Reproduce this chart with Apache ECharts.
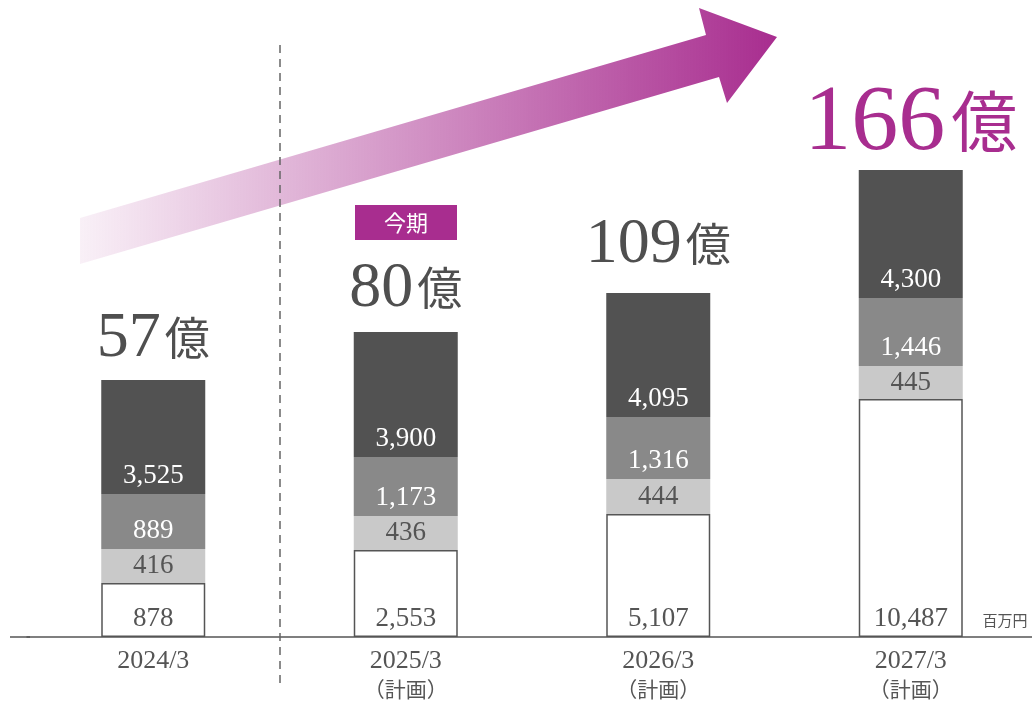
<!DOCTYPE html>
<html>
<head>
<meta charset="utf-8">
<script src="https://cdn.jsdelivr.net/npm/echarts@6/dist/echarts.min.js"></script>
<style>
html, body { margin: 0; padding: 0; background: #fff; }
#main { width: 1032px; height: 703px; }
</style>
</head>
<body>
<div id="main"></div>
<script>
// 売上構成の推移（百万円）
var categories = ['2024/3', '2025/3', '2026/3', '2027/3'];
var planNote = ['', '（計画）', '（計画）', '（計画）'];
var totals = [57, 80, 109, 166];           // 億
var valWhite = [878, 2553, 5107, 10487];
var valLight = [416, 436, 444, 445];
var valMid = [889, 1173, 1316, 1446];
var valDark = [3525, 3900, 4095, 4300];
// 図は実寸比ではないので、見た目の高さを別に持つ
var hWhite = [54, 87, 123, 238];
var hLight = [34, 34, 35, 33];
var hMid = [55, 59, 62, 68];
var hDark = [114, 125, 124, 128];

var SERIF = '"Liberation Serif", "Noto Sans CJK JP", serif';
var MAGENTA = '#a82d8f';

function fmt(v) { return v.toLocaleString('en-US'); }

function segLabel(vals, color, pos, dist) {
	return {
		show: true, position: pos, distance: dist,
		color: color, fontSize: 27, fontFamily: SERIF,
		formatter: function(p) { return fmt(vals[p.dataIndex]); }
	};
}

// 合計ラベルの棒からの距離
var totalGap = [9, 11, 16, 0];
var totalData = totals.map(function(t, i) {
	return { value: 0, label: { distance: totalGap[i] } };
});

var myChart = echarts.init(document.getElementById('main'));
myChart.setOption({
	animation: false,
	grid: { left: 27, top: 37, width: 1010, height: 600, outerBoundsMode: 'none', containLabel: false },
	xAxis: {
		type: 'category',
		data: categories,
		axisLine: { lineStyle: { color: '#555', width: 1.5 } },
		axisTick: { show: false },
		axisLabel: {
			margin: 10,
			formatter: function(v, i) {
				return '{a|' + v + '}' + (planNote[i] ? '\n{b|' + planNote[i] + '}' : '');
			},
			rich: {
				a: { fontSize: 26, fontFamily: SERIF, color: '#555', lineHeight: 29 },
				b: { fontSize: 21, fontFamily: SERIF, color: '#555', lineHeight: 31 }
			}
		}
	},
	yAxis: { type: 'value', min: 0, max: 600, show: false },
	series: [
		{
			type: 'bar', stack: 'a', barWidth: 104, data: hWhite,
			itemStyle: { color: '#fff', borderColor: '#555', borderWidth: 1.5 },
			label: segLabel(valWhite, '#555', 'insideBottom', 5)
		},
		{
			type: 'bar', stack: 'a', data: hLight,
			itemStyle: { color: '#c9c9c9' },
			label: segLabel(valLight, '#555', 'inside', 0)
		},
		{
			type: 'bar', stack: 'a', data: hMid,
			itemStyle: { color: '#898989' },
			label: segLabel(valMid, '#fff', 'insideBottom', 5)
		},
		{
			type: 'bar', stack: 'a', data: hDark,
			itemStyle: { color: '#525252' },
			label: segLabel(valDark, '#fff', 'insideBottom', 5)
		},
		{
			// 合計（億）を棒の上に
			type: 'bar', stack: 'a', data: totalData,
			itemStyle: { color: 'transparent' },
			label: {
				show: true, position: 'top',
				formatter: function(p) {
					var i = p.dataIndex;
					if (i == 3) return '{m|' + totals[i] + '}{mu|億}';
					return '{n|' + totals[i] + '}{u|億}';
				},
				rich: {
					n: { fontSize: 64, fontFamily: SERIF, color: '#4f4f4f', lineHeight: 64 },
					u: { fontSize: 45, fontFamily: SERIF, color: '#4f4f4f', lineHeight: 64, padding: [8, 0, 0, 4] },
					m: { fontSize: 94, fontFamily: SERIF, color: MAGENTA, lineHeight: 92 },
					mu: { fontSize: 66, fontFamily: SERIF, color: MAGENTA, lineHeight: 92, padding: [10, 0, 0, 6] }
				}
			}
		}
	],
	graphic: [
		{
			type: 'polygon', z: 0,
			shape: { points: [[80, 218], [706, 35], [699, 8], [777, 37], [727, 103], [719, 77], [80, 264]] },
			style: {
				fill: new echarts.graphic.LinearGradient(0, 0, 1, 0, [
					{ offset: 0, color: 'rgba(168,45,143,0.07)' },
					{ offset: 1, color: 'rgba(168,45,143,1)' }
				])
			}
		},
		{
			type: 'line', z: 5,
			shape: { x1: 280, y1: 45, x2: 280, y2: 685 },
			style: { stroke: '#666', lineWidth: 1.5, lineDash: [8, 6] }
		},
		{
			type: 'line', z: 5,
			shape: { x1: 10, y1: 637, x2: 30, y2: 637 },
			style: { stroke: '#555', lineWidth: 1.5 }
		},
		{
			type: 'rect', z: 5,
			shape: { x: 355, y: 205, width: 102, height: 35 },
			style: { fill: MAGENTA }
		},
		{
			type: 'text', z: 6, x: 406, y: 223,
			style: { text: '今期', fill: '#fff', font: '22px "Noto Sans CJK JP"', align: 'center', verticalAlign: 'middle' }
		},
		{
			type: 'text', z: 6, x: 1005, y: 620,
			style: { text: '百万円', fill: '#555', font: '15px "Noto Sans CJK JP"', align: 'center', verticalAlign: 'middle' }
		}
	]
});
</script>
</body>
</html>
